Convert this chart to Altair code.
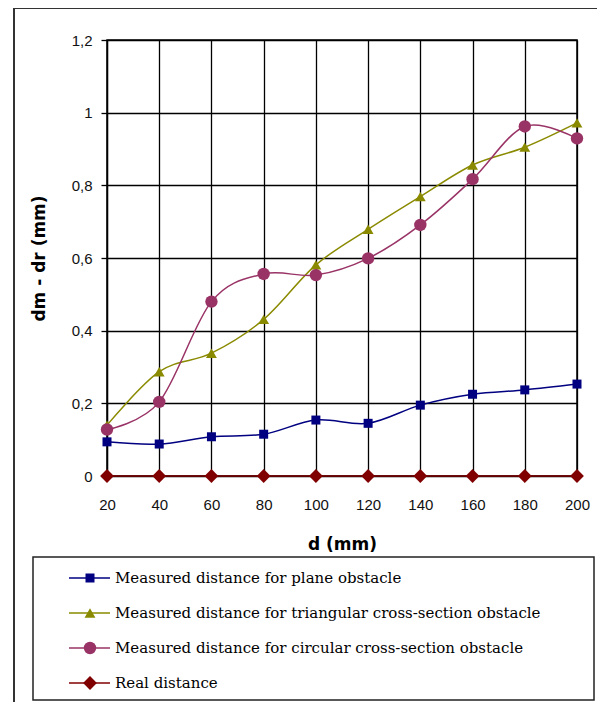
import altair as alt
import pandas as pd

d_values = [20, 40, 60, 80, 100, 120, 140, 160, 180, 200]
plane = [0.094, 0.088, 0.108, 0.115, 0.154, 0.145, 0.195, 0.225, 0.237, 0.253]
triangular = [0.14, 0.287, 0.338, 0.431, 0.581, 0.679, 0.769, 0.856, 0.905, 0.972]
circular = [0.128, 0.204, 0.48, 0.556, 0.553, 0.599, 0.691, 0.817, 0.962, 0.929]
real = [0, 0, 0, 0, 0, 0, 0, 0, 0, 0]

series_names = [
    "Measured distance for  plane obstacle",
    "Measured distance for triangular cross-section obstacle",
    "Measured distance for circular cross-section obstacle",
    "Real distance",
]
series_colors = ["#000080", "#8a8a00", "#993366", "#800000"]
series_shapes = ["square", "triangle-up", "circle", "diamond"]
series_sizes = [81, 190, 105, 100]
y_ticks = [0, 0.2, 0.4, 0.6, 0.8, 1.0, 1.2]

rows = []
for name, vals in zip(series_names, [plane, triangular, circular, real]):
    for d, v in zip(d_values, vals):
        rows.append({"d": d, "value": v, "series": name})
df = pd.DataFrame(rows)
legend_df = pd.DataFrame({"series": series_names})

color = alt.Color("series:N", scale=alt.Scale(domain=series_names, range=series_colors), legend=None)
shape = alt.Shape("series:N", scale=alt.Scale(domain=series_names, range=series_shapes), legend=None)
size = alt.Size("series:N", scale=alt.Scale(domain=series_names, range=series_sizes), legend=None)

x = alt.X(
    "d:Q",
    scale=alt.Scale(domain=[20, 200], nice=False, zero=False),
    axis=alt.Axis(
        values=d_values, title="d (mm)", grid=True, domain=False, tickSize=0,
        labelFlush=False, labelPadding=21, titlePadding=24,
        labelFontSize=15, titleFontSize=17,
    ),
)
y = alt.Y(
    "value:Q",
    scale=alt.Scale(domain=[0, 1.2], nice=False),
    axis=alt.Axis(
        values=y_ticks, title="dm - dr (mm)", grid=True, tickSize=6,
        labelPadding=9, titlePadding=23, labelFontSize=15, titleFontSize=17,
        labelExpr="replace(format(datum.value, '.1~f'), '.', ',')",
    ),
)

base = alt.Chart(df)
lines = base.mark_line(interpolate="cardinal", strokeWidth=1.5).encode(x=x, y=y, color=color, detail="series:N")
points = base.mark_point(filled=True, opacity=1).encode(x=x, y=y, color=color, shape=shape, size=size)
main = alt.layer(lines, points)

ly = alt.Y("series:N", scale=alt.Scale(domain=series_names, range=[538, 643], type="point", padding=0), axis=None)
leg_rule = alt.Chart(legend_df).mark_rule(strokeWidth=1.5).encode(
    x=alt.value(-38), x2=alt.value(3), y=ly, color=color)
leg_pts = alt.Chart(legend_df).mark_point(filled=True, opacity=1).encode(
    x=alt.value(-17), y=ly, color=color, shape=shape, size=size)
leg_txt = alt.Chart(legend_df).mark_text(
    align="left", baseline="middle", font="DejaVu Serif", fontSize=15, color="black"
).encode(x=alt.value(8), y=ly, text="series:N")
legend = alt.layer(leg_rule, leg_pts, leg_txt)

one = pd.DataFrame({"k": [0]})
frame = alt.Chart(one).mark_rect(fillOpacity=0, stroke="#333333", strokeWidth=2).encode(
    x=alt.value(-93), x2=alt.value(620), y=alt.value(-32), y2=alt.value(720))
box = alt.Chart(one).mark_rect(fill="white", stroke="#222222", strokeWidth=1.5).encode(
    x=alt.value(-74), x2=alt.value(487), y=alt.value(517), y2=alt.value(660))

chart = alt.layer(frame, main, box, legend).resolve_scale(y="independent").properties(
    width=470, height=436,
    autosize=alt.AutoSizeParams(type="none"),
    padding={"left": 99, "top": 32, "right": 20, "bottom": 226},
    background="white",
).configure_view(
    stroke="black", strokeWidth=1.5
).configure_axis(
    gridColor="black", gridWidth=1.3, gridOpacity=1,
    domainColor="black", domainWidth=1.3, tickColor="black", tickWidth=1.3,
    labelFont="Liberation Sans", labelColor="#111111",
    titleFont="DejaVu Sans", titleColor="black", titleFontWeight="bold",
)

chart.save("out.html", embed_options={"renderer": "svg", "actions": False})
